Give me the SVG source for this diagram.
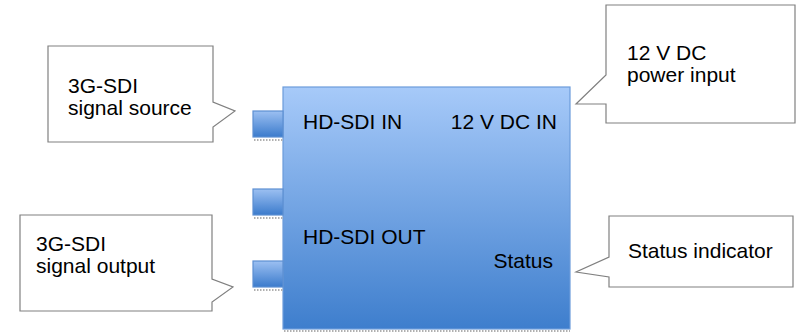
<svg xmlns="http://www.w3.org/2000/svg" width="801" height="333" viewBox="0 0 801 333">
<defs>
<linearGradient id="gBox" x1="0" y1="0" x2="0" y2="1">
<stop offset="0" stop-color="#a7caf9"/>
<stop offset="1" stop-color="#3e7ecd"/>
</linearGradient>
<linearGradient id="gPort" x1="0" y1="0" x2="0" y2="1">
<stop offset="0" stop-color="#9cc0f2"/>
<stop offset="1" stop-color="#3b7bcc"/>
</linearGradient>
</defs>
<style>
.t{font-family:"Liberation Sans",Arial,sans-serif;font-size:21px;fill:#000}
.call{fill:#fff;stroke:#808080;stroke-width:1.2}
.port{fill:url(#gPort);stroke:#5d8fd2;stroke-width:1.2}
.shadow{stroke:#b0b0b0;stroke-width:2;stroke-dasharray:1.5 1.5;fill:none}
</style>
<g id="device">
<line class="shadow" x1="284" y1="331" x2="570" y2="331"/>
<rect x="283" y="87" width="287" height="242" fill="url(#gBox)" stroke="#6c9cdb" stroke-width="1.2"/>
<text class="t" x="303" y="129">HD-SDI IN</text>
<text class="t" x="557" y="129" text-anchor="end">12 V DC IN</text>
<text class="t" x="303" y="244">HD-SDI OUT</text>
<text class="t" x="553" y="268" text-anchor="end">Status</text>
</g>
<g id="port-in">
<line class="shadow" x1="254" y1="140" x2="283" y2="140"/>
<rect class="port" x="253" y="111" width="30" height="26"/>
</g>
<g id="port-mid">
<line class="shadow" x1="254" y1="218" x2="283" y2="218"/>
<rect class="port" x="253" y="189" width="30" height="26"/>
</g>
<g id="port-out">
<line class="shadow" x1="254" y1="290" x2="283" y2="290"/>
<rect class="port" x="253" y="261" width="30" height="26"/>
</g>
<g id="connectors">
<g id="callout-source">
<path class="call" d="M48,46 H213 V102 L235,111 L213,127 V142 H48 Z"/>
<text class="t" x="68" y="93">3G-SDI</text>
<text class="t" x="68" y="115">signal source</text>
</g>
<g id="callout-power">
<path class="call" d="M606,5 H795 V123 H606 V104 H576 L606,75 Z"/>
<text class="t" x="627" y="60">12 V DC</text>
<text class="t" x="627" y="82">power input</text>
</g>
<g id="callout-status">
<path class="call" d="M609,216 H793 V287 H609 V277 L576,272 L609,257 Z"/>
<text class="t" x="628" y="258">Status indicator</text>
</g>
<g id="callout-output">
<path class="call" d="M20,215 H212 V279 L233,287 L212,302 V311 H20 Z"/>
<text class="t" x="36" y="251">3G-SDI</text>
<text class="t" x="36" y="273">signal output</text>
</g>
</g>
</svg>
